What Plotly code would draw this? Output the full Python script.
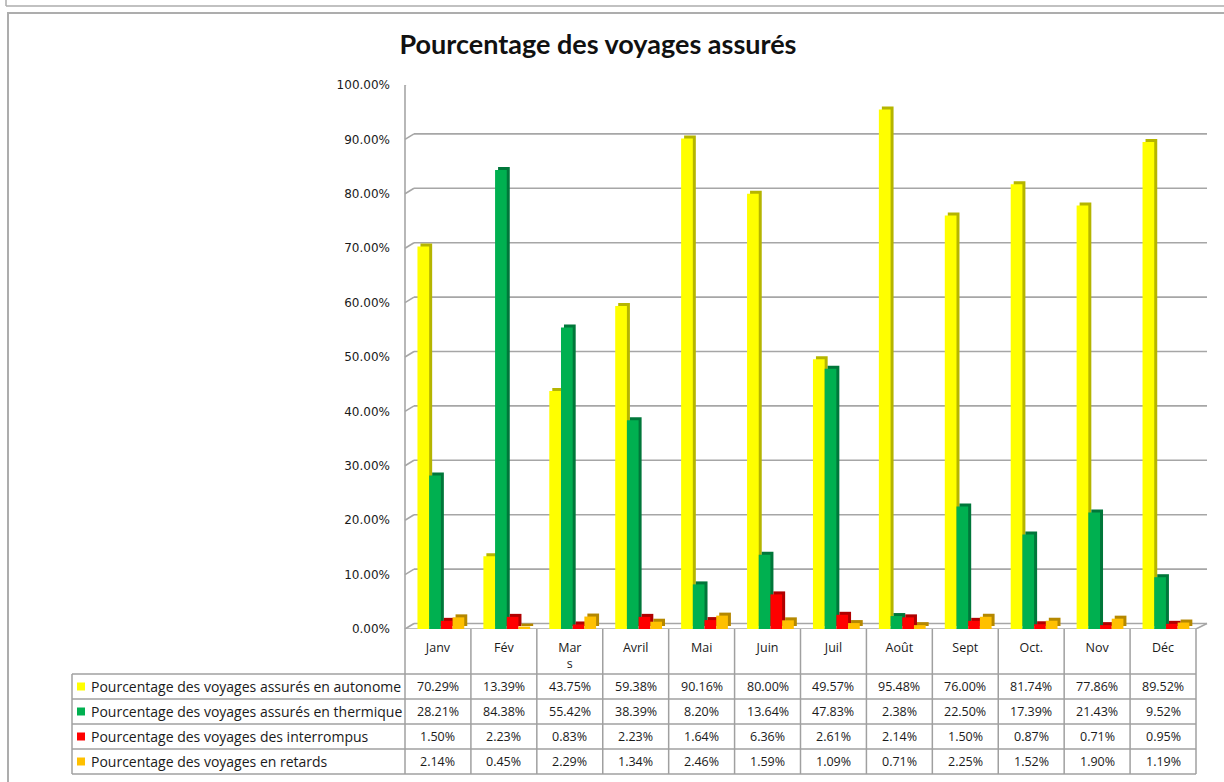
import plotly.graph_objects as go

# ---------------- data ----------------
months = ["Janv", "Fév", "Mars", "Avril", "Mai", "Juin", "Juil", "Août", "Sept", "Oct.", "Nov", "Déc"]
month_labels = ["Janv", "Fév", "Mar<br>s", "Avril", "Mai", "Juin", "Juil", "Août", "Sept", "Oct.", "Nov", "Déc"]

series_names = [
    "Pourcentage des voyages assurés en autonome",
    "Pourcentage des voyages assurés en thermique",
    "Pourcentage des voyages des interrompus",
    "Pourcentage des voyages en retards",
]
autonome = [70.29, 13.39, 43.75, 59.38, 90.16, 80.00, 49.57, 95.48, 76.00, 81.74, 77.86, 89.52]
thermique = [28.21, 84.38, 55.42, 38.39, 8.20, 13.64, 47.83, 2.38, 22.50, 17.39, 21.43, 9.52]
interrompus = [1.50, 2.23, 0.83, 2.23, 1.64, 6.36, 2.61, 2.14, 1.50, 0.87, 0.71, 0.95]
retards = [2.14, 0.45, 2.29, 1.34, 2.46, 1.59, 1.09, 0.71, 2.25, 1.52, 1.90, 1.19]
series_values = [autonome, thermique, interrompus, retards]

y_ticks = [0, 10, 20, 30, 40, 50, 60, 70, 80, 90, 100]

front_colors = ["#FFFF00", "#00B050", "#FF0000", "#FFC000"]
side_colors = ["#B5B500", "#00773A", "#B00000", "#B58800"]

# ---------------- geometry helpers ----------------
W, H = 1224, 782


def px(x):
    return x / W


def py(y):
    return 1 - y / H


Y0, Y100 = 629, 85          # pixel rows of 0% and 100% (front plane)
X0, X1 = 405, 1196           # plot / table columns
ncat = len(months)
cat_px = (X1 - X0) / ncat
unit_per_px_y = 1.0 / (Y0 - Y100)
depth_dy = 5.5 * unit_per_px_y
depth_dx = 9

fig = go.Figure()

pitch = 11.7
first = -20.5
side = 3.0
topd = 3 * unit_per_px_y
for k, (name, vals) in enumerate(zip(series_names, series_values)):
    frac = [v / 100 for v in vals]
    off = (first + k * pitch) / cat_px
    w = pitch / cat_px
    fig.add_trace(go.Bar(
        x=months, y=frac, base=topd, offset=off + side / cat_px, width=w,
        marker=dict(color=side_colors[k], line=dict(width=0)),
        showlegend=False, hoverinfo="skip"))
    fig.add_trace(go.Bar(
        x=months, y=frac, offset=off, width=w, name=name,
        marker=dict(color=front_colors[k], line=dict(width=0)),
        showlegend=False))

grid_col = "#A6A6A6"
shapes = []
for t in y_ticks:
    v = t / 100
    shapes.append(dict(type="line", xref="paper", yref="y",
                       x0=px(X0), y0=v, x1=px(X0 + depth_dx), y1=v + depth_dy,
                       line=dict(color=grid_col, width=1.6), layer="below"))
    shapes.append(dict(type="line", xref="paper", yref="y",
                       x0=px(X0 + depth_dx), y0=v + depth_dy, x1=px(X1 + 11), y1=v + depth_dy,
                       line=dict(color=grid_col, width=1.6), layer="below"))
shapes.append(dict(type="line", xref="paper", yref="y", x0=px(X0), y0=0, x1=px(X1), y1=0,
                   line=dict(color=grid_col, width=1.6), layer="below"))
shapes.append(dict(type="line", xref="paper", yref="y", x0=px(X1), y0=0, x1=px(X1 + 11), y1=depth_dy,
                   line=dict(color=grid_col, width=1.6), layer="below"))
shapes.append(dict(type="line", xref="paper", yref="y", x0=px(X0), y0=0, x1=px(X0), y1=1.0,
                   line=dict(color=grid_col, width=1.6), layer="below"))

# ---------------- data table ----------------
tcol = "#A0A0A0"
row_tops = [674, 699, 724, 749, 774]
LX = 72
for yy in row_tops:
    shapes.append(dict(type="line", xref="paper", yref="paper", x0=px(LX), x1=px(X1),
                       y0=py(yy), y1=py(yy), line=dict(color=tcol, width=1.5)))
shapes.append(dict(type="line", xref="paper", yref="paper", x0=px(LX), x1=px(LX),
                   y0=py(674), y1=py(774), line=dict(color=tcol, width=1.5)))
for i in range(ncat + 1):
    xx = X0 + i * cat_px
    shapes.append(dict(type="line", xref="paper", yref="paper", x0=px(xx), x1=px(xx),
                       y0=py(Y0), y1=py(774), line=dict(color=tcol, width=1.5)))

annotations = []
for k, (name, vals) in enumerate(zip(series_names, series_values)):
    yc = (row_tops[k] + row_tops[k + 1]) / 2
    shapes.append(dict(type="rect", xref="paper", yref="paper",
                       x0=px(77), x1=px(85), y0=py(yc - 4), y1=py(yc + 4),
                       fillcolor=front_colors[k], line=dict(width=0)))
    annotations.append(dict(text=name, xref="paper", yref="paper", x=px(89), y=py(yc),
                            xanchor="left", yanchor="middle", showarrow=False,
                            font=dict(family="Open Sans", size=14, color="#1a1a1a")))
    for i, v in enumerate(vals):
        annotations.append(dict(text=f"{v:.2f}%", xref="paper", yref="paper",
                                x=px(X0 + (i + 0.5) * cat_px), y=py(yc),
                                xanchor="center", yanchor="middle", showarrow=False,
                                font=dict(family="Open Sans", size=12.5, color="#1a1a1a")))

# outer worksheet frame
shapes.append(dict(type="rect", xref="paper", yref="paper", x0=px(8), x1=px(1240),
                   y0=py(820), y1=py(13), line=dict(color="#ADADAD", width=2)))
shapes.append(dict(type="line", xref="paper", yref="paper", x0=px(6), x1=px(1224),
                   y0=py(6), y1=py(6), line=dict(color="#ADADAD", width=1.5)))
shapes.append(dict(type="line", xref="paper", yref="paper", x0=px(6), x1=px(6),
                   y0=py(-10), y1=py(6), line=dict(color="#ADADAD", width=1.5)))

fig.update_layout(
    width=W, height=H, autosize=False,
    margin=dict(l=0, r=0, t=0, b=0, autoexpand=False),
    paper_bgcolor="white", plot_bgcolor="rgba(0,0,0,0)",
    barmode="group",
    title=dict(text="<b>Pourcentage des voyages assurés</b>", x=px(598), xanchor="center",
               y=py(45), yanchor="middle",
               font=dict(family="Lato", size=27, color="#111111")),
    xaxis=dict(domain=[px(X0), px(X1)], type="category", categoryorder="array",
               categoryarray=months, range=[-0.5, ncat - 0.5],
               tickmode="array", tickvals=months, ticktext=month_labels,
               showgrid=False, showline=False, zeroline=False, ticks="",
               ticklabelstandoff=9, automargin=False,
               tickfont=dict(family="Open Sans", size=12.5, color="#1a1a1a")),
    yaxis=dict(domain=[py(Y0), py(Y100)], range=[0, 1.0],
               tickmode="array", tickvals=[t / 100 for t in y_ticks], tickformat=".2%",
               showgrid=False, showline=False, zeroline=False, ticks="",
               ticklabelstandoff=14, automargin=False,
               tickfont=dict(family="DejaVu Sans", size=12, color="#1a1a1a")),
    shapes=shapes,
    annotations=annotations,
    showlegend=False,
)

fig.write_html(
    "out.html",
    config={"displayModeBar": False, "responsive": False},
    post_script="document.body.style.margin='0px';document.body.style.overflow='hidden';"
                "document.documentElement.style.overflow='hidden';",
)
